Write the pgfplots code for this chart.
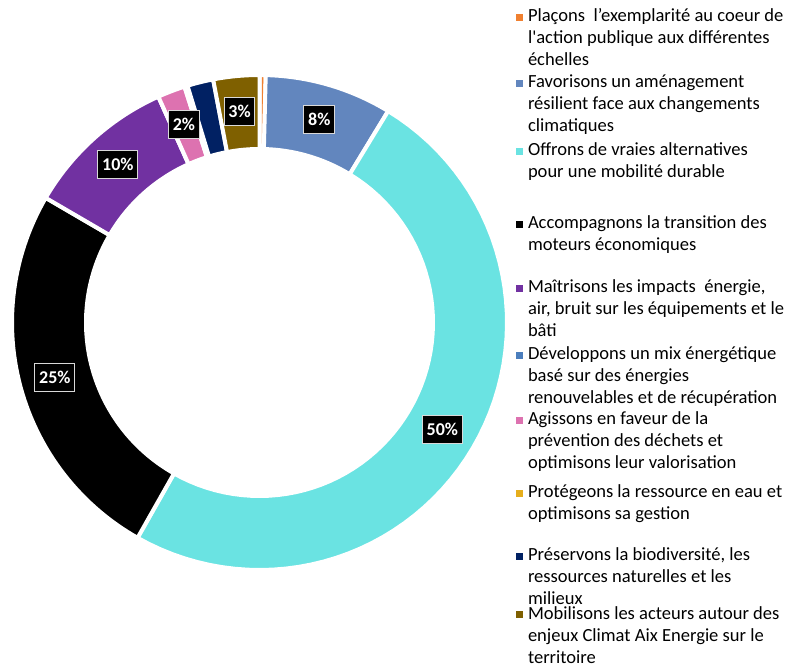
\documentclass[border=0pt]{standalone}
\usepackage{fontspec}
\setmainfont{Carlito}[Ligatures=TeXOff]
\usepackage{pgfplots}
\usepackage{pgfplotstable}
\pgfplotsset{compat=1.18}

\definecolor{c0}{HTML}{F08030}
\definecolor{c1}{HTML}{6286BE}
\definecolor{c2}{HTML}{6AE3E2}
\definecolor{c3}{HTML}{000000}
\definecolor{c4}{HTML}{7131A1}
\definecolor{c5}{HTML}{4B7EBD}
\definecolor{c6}{HTML}{DD72B0}
\definecolor{c7}{HTML}{E6AE1C}
\definecolor{c8}{HTML}{012163}
\definecolor{c9}{HTML}{7F6000}

\tikzset{lab/.style={fill=black, draw=gray!30, line width=0.8pt, text=white,
    font=\fontsize{13.5}{16}\selectfont\bfseries,
    inner xsep=3.2pt, inner ysep=0pt, minimum height=21pt}}

% share of each axis (percent), clockwise from the top; show = data label drawn
\pgfplotstableread{
value show
0.4   0
8.3   1
49.5  1
25.2  1
9.9   1
0     0
1.8   1
0.2   0
1.7   0
3.0   1
}\donutdata

\newcommand{\lgd}[1]{\parbox[t]{205pt}{\raggedright #1}}

\begin{document}
\begin{tikzpicture}
\begin{axis}[
  width=598.5pt, height=501pt, scale only axis,
  xmin=0, xmax=798, ymin=0, ymax=668,
  hide axis, clip=false,
  legend image code/.code={\fill[#1,draw=none] (0pt,0.6pt) rectangle (5.25pt,5.85pt);},
  legend style={draw=none, fill=none, inner sep=0pt, outer sep=0pt,
    at={(axis cs:516,659.5)}, anchor=north west,
    font=\fontsize{13.9}{16.5}\selectfont,
    row sep=4.2pt, column sep=3.75pt,
    cells={anchor=base west}, nodes={inner sep=0pt, outer sep=0pt, text height=10pt, text depth=35.5pt}},
]
\pgfmathsetmacro{\cum}{0}
\pgfplotsforeachungrouped \i in {0,...,9}{%
  \pgfplotstablegetelem{\i}{value}\of\donutdata
  \let\val\pgfplotsretval
  \pgfmathsetmacro{\ts}{90-3.6*\cum}%
  \pgfmathsetmacro{\cum}{\cum+\val}%
  \pgfmathsetmacro{\dt}{-3.6*\val}%
  \edef\temp{\noexpand\addplot[fill=c\i, draw=white, line width=3pt, samples at={0,...,121}]
    ({259.5+(x<60.5 ? 247.5 : 173.5)*cos((\ts)+(\dt)*(x<60.5 ? x/60 : (121-x)/60))},
     {345.5+(x<60.5 ? 247.5 : 173.5)*sin((\ts)+(\dt)*(x<60.5 ? x/60 : (121-x)/60))}) -- cycle;}%
  \temp
}
\addlegendentry[text depth=35.3pt]{\lgd{Plaçons\ \ l’exemplarité au coeur de\\l'action publique aux différentes\\échelles}}
\addlegendentry[text depth=36.8pt]{\lgd{Favorisons un aménagement\\résilient face aux changements\\climatiques}}
\addlegendentry[text depth=40.55pt]{\lgd{Offrons de vraies alternatives\\pour une mobilité durable}}
\addlegendentry[text depth=33.8pt]{\lgd{Accompagnons la transition des\\moteurs économiques}}
\addlegendentry[text depth=36.05pt]{\lgd{Maîtrisons les impacts\ \ énergie,\\air, bruit sur les équipements et le\\bâti}}
\addlegendentry[text depth=34.55pt]{\lgd{Développons un mix énergétique\\basé sur des énergies\\renouvelables et de récupération}}
\addlegendentry[text depth=40.55pt]{\lgd{Agissons en faveur de la\\prévention des déchets et\\optimisons leur valorisation}}
\addlegendentry[text depth=33.05pt]{\lgd{Protégeons la ressource en eau et\\optimisons sa gestion}}
\addlegendentry[text depth=29.5pt]{\lgd{Préservons la biodiversité, les\\ressources naturelles et les\\milieux}}
\addlegendentry[text depth=33pt]{\lgd{Mobilisons les acteurs autour des\\enjeux Climat Aix Energie sur le\\territoire}}
\pgfmathsetmacro{\cum}{0}
\pgfplotsforeachungrouped \i in {0,...,9}{%
  \pgfplotstablegetelem{\i}{value}\of\donutdata
  \let\val\pgfplotsretval
  \pgfplotstablegetelem{\i}{show}\of\donutdata
  \let\shw\pgfplotsretval
  \pgfmathsetmacro{\ts}{90-3.6*\cum}%
  \pgfmathsetmacro{\cum}{\cum+\val}%
  \pgfmathsetmacro{\tm}{\ts-1.8*\val}%
  \pgfmathsetmacro{\lx}{259.5+212*cos(\tm)}%
  \pgfmathsetmacro{\ly}{345.5+212*sin(\tm)}%
  \pgfmathtruncatemacro{\pct}{round(\val)}%
  \ifnum\shw=1
    \edef\temp{\noexpand\node[lab] at (axis cs:\lx,\ly) {\pct\noexpand\%};}%
    \temp
  \fi
}
\end{axis}
\pgfresetboundingbox
\path (current axis.south west) rectangle (current axis.north east);
\end{tikzpicture}
\end{document}
